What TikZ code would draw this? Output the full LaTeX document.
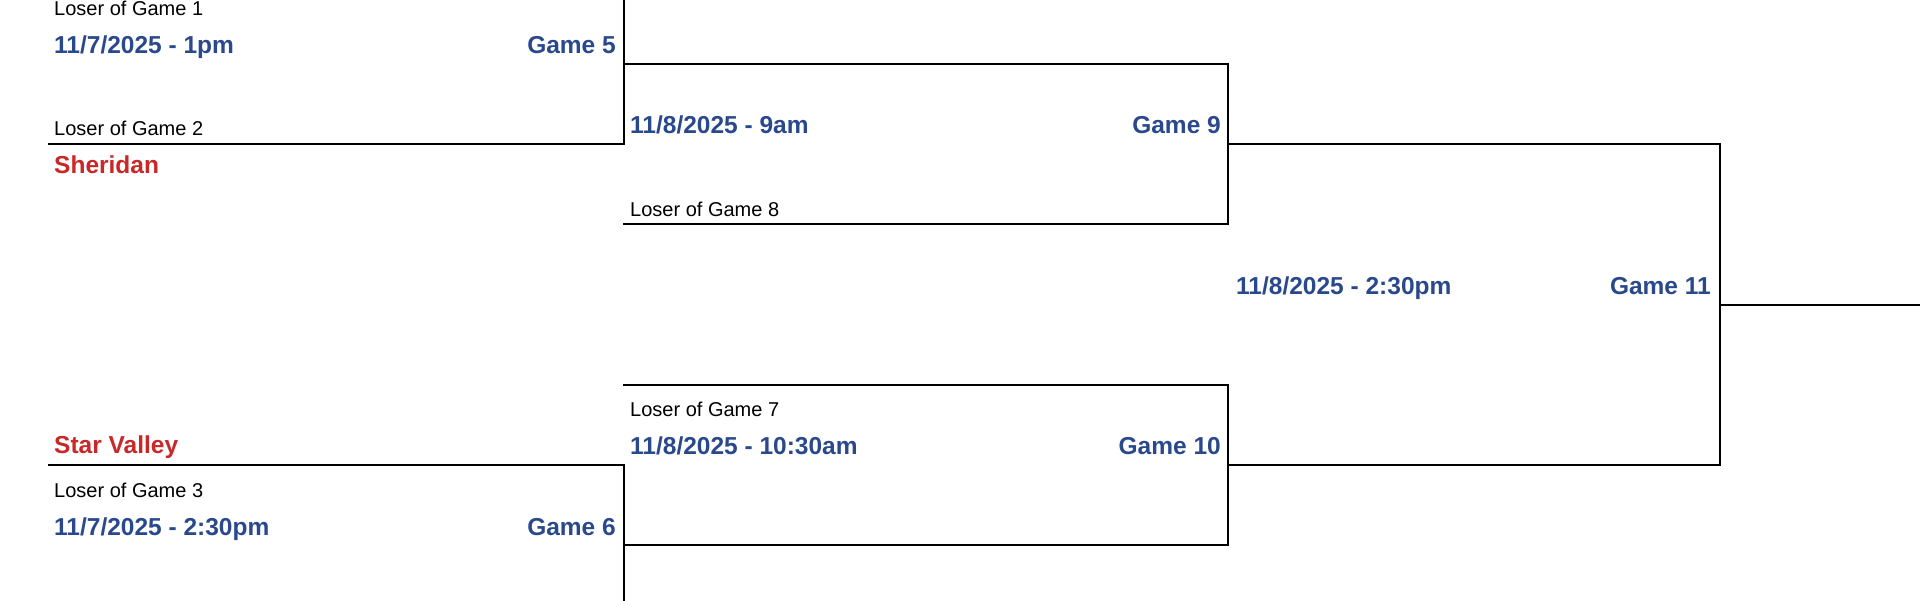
\documentclass[tikz,border=0pt]{standalone}
\usepackage{fontspec}
\setmainfont{Liberation Sans}
\usepackage{tikz}
\usetikzlibrary{calc}
\definecolor{gameblue}{RGB}{42,72,140}
\definecolor{teamred}{RGB}{200,40,40}

\begin{document}
\begin{tikzpicture}[x=1pt,y=-1pt,
    every node/.style={inner sep=0pt,font=\fontsize{20}{24}\selectfont},
    datum/.style={font=\fontsize{24.5}{28}\selectfont\bfseries,text=gameblue},
    team/.style={font=\fontsize{24.5}{28}\selectfont\bfseries,text=teamred},
    bline/.style={line width=2pt,line cap=rect}]
    \useasboundingbox (0,0) rectangle (1920,600);
    \clip (0,0) rectangle (1920,600);

    % 括号拐角
    \coordinate (a1) at (49,-16);   \coordinate (a2) at (624,-16);
    \coordinate (a3) at (49,144);   \coordinate (a4) at (624,144);
    \coordinate (a5) at (624,64);
    \coordinate (b1) at (1228,64);  \coordinate (b2) at (624,224);
    \coordinate (b3) at (1228,224); \coordinate (b4) at (1228,144);
    \coordinate (c1) at (49,465);   \coordinate (c2) at (624,465);
    \coordinate (c3) at (49,626);   \coordinate (c4) at (624,626);
    \coordinate (c5) at (624,545);
    \coordinate (d1) at (624,385);  \coordinate (d2) at (1228,385);
    \coordinate (d3) at (1228,545); \coordinate (d4) at (1228,465);
    \coordinate (e1) at (1720,144); \coordinate (e2) at (1720,465);
    \coordinate (e3) at (1720,305); \coordinate (e4) at (1920,305);

    % 画括号线
    \draw[bline] (a1) -- (a2) -- (a4) -- (a3);
    \draw[bline] (a5) -- (b1) -- (b3) -- (b2);
    \draw[bline] (b4) -- (e1) -- (e2) -- (d4);
    \draw[bline] (c1) -- (c2) -- (c4) -- (c3);
    \draw[bline] (d1) -- (d2) -- (d3) -- (c5);
    \draw[bline] (e3) -- (e4);

    % 左列
    \node[anchor=base west] (lose1) at (54,15) {Loser of Game 1};
    \node[anchor=base west,datum] (date5) at (54,53) {11/7/2025 - 1pm};
    \node[anchor=base east,datum] (game5) at (616,53) {Game 5};
    \node[anchor=base west] (lose2) at (54,135) {Loser of Game 2};
    \node[anchor=base west,team] (sheridan) at (54,173) {Sheridan};
    \node[anchor=base west,team] (star) at (54,453) {Star Valley};
    \node[anchor=base west] (lose3) at (54,497) {Loser of Game 3};
    \node[anchor=base west,datum] (date6) at (54,535) {11/7/2025 - 2:30pm};
    \node[anchor=base east,datum] (game6) at (616,535) {Game 6};

    % 中列
    \node[anchor=base west,datum] (date9) at (630,133) {11/8/2025 - 9am};
    \node[anchor=base east,datum] (game9) at (1221,133) {Game 9};
    \node[anchor=base west] (lose8) at (630,216) {Loser of Game 8};
    \node[anchor=base west] (lose7) at (630,416) {Loser of Game 7};
    \node[anchor=base west,datum] (date10) at (630,454) {11/8/2025 - 10:30am};
    \node[anchor=base east,datum] (game10) at (1221,454) {Game 10};

    % 右列
    \node[anchor=base west,datum] (date11) at (1236,294) {11/8/2025 - 2:30pm};
    \node[anchor=base east,datum] (game11) at (1711,294) {Game 11};
\end{tikzpicture}
\end{document}
